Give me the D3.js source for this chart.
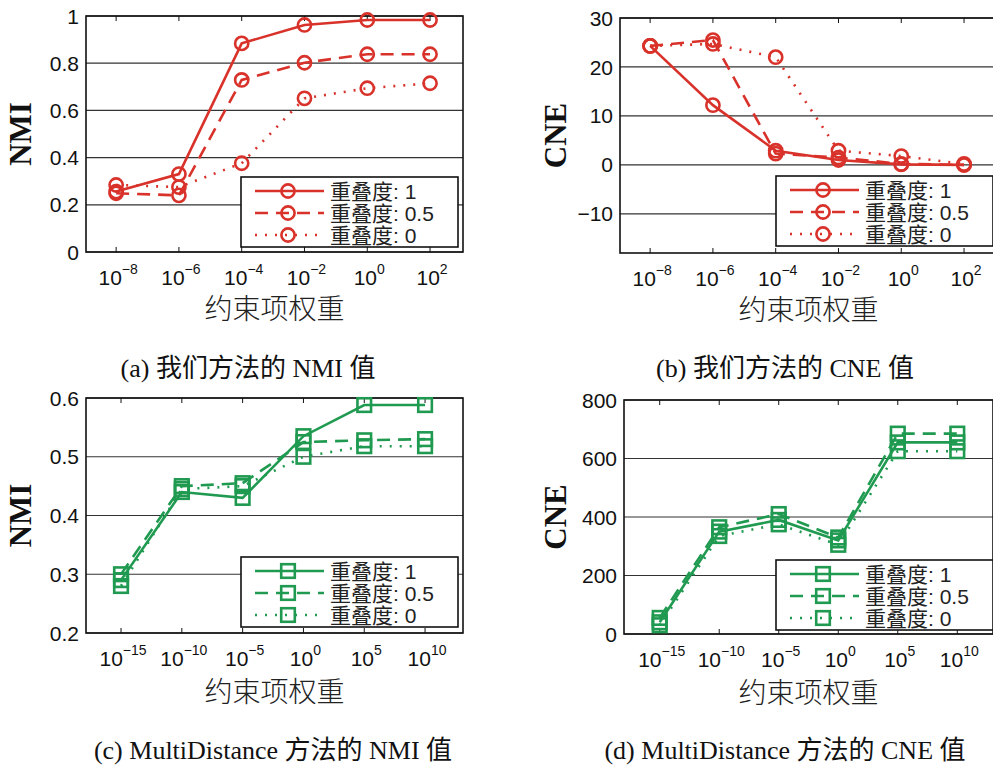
<!DOCTYPE html>
<html>
<head>
<meta charset="utf-8">
<script src="https://cdn.jsdelivr.net/npm/d3@7"></script>
<style>
  body { margin: 0; background: #fff; }
  svg { display: block; }
  .tick-label { font-family: "Liberation Sans", Arial, sans-serif; font-size: 21px; fill: #111; }
  .axis-title { font-family: "Liberation Serif", "Times New Roman", serif; font-weight: bold; font-size: 31px; fill: #111; }
  .x-title { font-family: "Noto Sans CJK SC", sans-serif; font-size: 28px; fill: #222; font-weight: 300; }
  .legend-text { font-family: "Liberation Sans", "Noto Sans CJK SC", sans-serif; font-size: 21px; fill: #222; }
  .caption { font-family: "Liberation Serif", "Noto Sans CJK SC", serif; font-size: 26px; fill: #111; }
</style>
</head>
<body>
<svg id="chart" width="993" height="767"></svg>
<script>
// x positions are the exponents of 10
const expOurs = [ -8, -6, -4, -2, 0, 2 ];
const expMD = [ -15, -10, -5, 0, 5, 10 ];

const legendLabels = [ "重叠度: 1", "重叠度: 0.5", "重叠度: 0" ];

// (a) our method, NMI
const nmiOurs1 = [ 0.256, 0.33, 0.884, 0.962, 0.983, 0.983 ];
const nmiOurs05 = [ 0.249, 0.24, 0.729, 0.802, 0.838, 0.838 ];
const nmiOurs0 = [ 0.284, 0.275, 0.376, 0.651, 0.694, 0.715 ];

// (b) our method, CNE
const cneOurs1 = [ 24.3, 12.2, 2.9, 1.0, 0.1, 0.0 ];
const cneOurs05 = [ 24.3, 25.5, 2.3, 1.5, 0.2, 0.0 ];
const cneOurs0 = [ 24.3, 24.7, 22.0, 2.9, 1.8, 0.2 ];

// (c) MultiDistance, NMI
const nmiMD1 = [ 0.29, 0.44, 0.43, 0.535, 0.588, 0.588 ];
const nmiMD05 = [ 0.30, 0.45, 0.455, 0.525, 0.528, 0.53 ];
const nmiMD0 = [ 0.28, 0.445, 0.45, 0.50, 0.518, 0.518 ];

// (d) MultiDistance, CNE
const cneMD1 = [ 40, 350, 390, 320, 655, 655 ];
const cneMD05 = [ 55, 365, 410, 330, 685, 685 ];
const cneMD0 = [ 30, 335, 375, 305, 625, 625 ];

const nmiTicksOurs = [ 0, 0.2, 0.4, 0.6, 0.8, 1 ];
const cneTicksOurs = [ -10, 0, 10, 20, 30 ];
const nmiTicksMD = [ 0.2, 0.3, 0.4, 0.5, 0.6 ];
const cneTicksMD = [ 0, 200, 400, 600, 800 ];

const captions = [
    "(a) 我们方法的 NMI 值",
    "(b) 我们方法的 CNE 值",
    "(c) MultiDistance 方法的 NMI 值",
    "(d) MultiDistance 方法的 CNE 值"
];

const RED = "#d8322a";
const GREEN = "#1f9a50";
const dashes = [ null, "13,8", "2,8" ];

const svg = d3.select( "#chart" );

function drawPanel( p ) {
    const x = d3.scaleLinear().domain( p.xDomain ).range( [ p.left, p.right ] );
    const y = d3.scaleLinear().domain( p.yDomain ).range( [ p.bottom, p.top ] );
    const g = svg.append( "g" );

    // horizontal grid
    g.selectAll( "line.grid" )
        .data( p.yTicks )
        .enter()
        .append( "line" )
        .attr( "x1", p.left ).attr( "x2", p.right )
        .attr( "y1", d => y( d ) ).attr( "y2", d => y( d ) )
        .attr( "stroke", "#333" )
        .attr( "stroke-width", 1.2 );

    // x ticks top and bottom, inward
    p.xTicks.forEach( t => {
        g.append( "line" ).attr( "x1", x( t ) ).attr( "x2", x( t ) )
            .attr( "y1", p.bottom ).attr( "y2", p.bottom - 5 ).attr( "stroke", "#111" );
        g.append( "line" ).attr( "x1", x( t ) ).attr( "x2", x( t ) )
            .attr( "y1", p.top ).attr( "y2", p.top + 5 ).attr( "stroke", "#111" );
    } );

    g.append( "rect" )
        .attr( "x", p.left ).attr( "y", p.top )
        .attr( "width", p.right - p.left ).attr( "height", p.bottom - p.top )
        .attr( "fill", "none" )
        .attr( "stroke", "#111" )
        .attr( "stroke-width", 1.6 );

    // y tick labels
    g.selectAll( "text.ytick" )
        .data( p.yTicks )
        .enter()
        .append( "text" )
        .attr( "class", "tick-label" )
        .attr( "x", p.left - 7 )
        .attr( "y", d => y( d ) )
        .attr( "dy", "0.36em" )
        .style( "text-anchor", "end" )
        .text( d => d < 0 ? "\u2212" + Math.abs( d ) : String( d ) );

    // x tick labels: 10 with superscript exponent
    const xl = g.selectAll( "text.xtick" )
        .data( p.xTicks )
        .enter()
        .append( "text" )
        .attr( "class", "tick-label" )
        .attr( "x", d => x( d ) + 2 )
        .attr( "y", p.bottom + 33 )
        .style( "text-anchor", "middle" );
    xl.append( "tspan" ).text( "10" );
    xl.append( "tspan" )
        .attr( "dy", -11 )
        .style( "font-size", "14px" )
        .text( d => d < 0 ? "\u2212" + Math.abs( d ) : String( d ) );

    // axis titles
    g.append( "text" )
        .attr( "class", "axis-title" )
        .attr( "transform", `translate(${p.yTitleX},${( p.top + p.bottom ) / 2}) rotate(-90)` )
        .attr( "dy", "0.35em" )
        .style( "text-anchor", "middle" )
        .text( p.yTitle );

    g.append( "text" )
        .attr( "class", "x-title" )
        .attr( "x", ( p.left + p.right ) / 2 )
        .attr( "y", p.bottom + p.xTitleGap )
        .attr( "dy", "0.35em" )
        .style( "text-anchor", "middle" )
        .text( "约束项权重" );

    // series
    const line = d3.line()
        .x( d => x( d[ 0 ] ) )
        .y( d => y( d[ 1 ] ) );

    p.series.forEach( ( vals, i ) => {
        const pts = p.xTicks.map( ( t, k ) => [ t, vals[ k ] ] );
        g.append( "path" )
            .attr( "d", line( pts ) )
            .attr( "fill", "none" )
            .attr( "stroke", p.color )
            .attr( "stroke-width", 2.6 )
            .attr( "stroke-dasharray", dashes[ i ] );
        drawMarkers( g, pts.map( d => [ x( d[ 0 ] ), y( d[ 1 ] ) ] ), p );
    } );

    // legend
    const lg = g.append( "g" ).attr( "transform", `translate(${p.legX},${p.legY})` );
    lg.append( "rect" )
        .attr( "width", 217 ).attr( "height", 70 )
        .attr( "fill", "#fff" )
        .attr( "stroke", "#111" )
        .attr( "stroke-width", 1.6 );
    legendLabels.forEach( ( lab, i ) => {
        const ry = 14 + i * 22;
        lg.append( "line" )
            .attr( "x1", 14 ).attr( "x2", 83 )
            .attr( "y1", ry ).attr( "y2", ry )
            .attr( "stroke", p.color )
            .attr( "stroke-width", 2.6 )
            .attr( "stroke-dasharray", dashes[ i ] );
        drawMarkers( lg, [ [ 47, ry ] ], p );
        lg.append( "text" )
            .attr( "class", "legend-text" )
            .attr( "x", 89 ).attr( "y", ry )
            .attr( "dy", "0.36em" )
            .text( lab );
    } );
}

function drawMarkers( g, pts, p ) {
    if ( p.marker === "circle" ) {
        g.selectAll( null ).data( pts ).enter()
            .append( "circle" )
            .attr( "cx", d => d[ 0 ] ).attr( "cy", d => d[ 1 ] )
            .attr( "r", 6.6 )
            .attr( "fill", "none" )
            .attr( "stroke", p.color )
            .attr( "stroke-width", 2.6 );
    } else {
        g.selectAll( null ).data( pts ).enter()
            .append( "rect" )
            .attr( "x", d => d[ 0 ] - 6.8 ).attr( "y", d => d[ 1 ] - 6.8 )
            .attr( "width", 13.6 ).attr( "height", 13.6 )
            .attr( "fill", "none" )
            .attr( "stroke", p.color )
            .attr( "stroke-width", 2.6 );
    }
}

drawPanel( {
    left: 86, right: 463, top: 16, bottom: 252,
    xDomain: [ -8.96, 3.05 ], yDomain: [ 0, 1 ],
    xTicks: expOurs, yTicks: nmiTicksOurs,
    series: [ nmiOurs1, nmiOurs05, nmiOurs0 ],
    color: RED, marker: "circle",
    yTitle: "NMI", yTitleX: 20, xTitleGap: 57,
    legX: 241, legY: 177
} );

drawPanel( {
    left: 620, right: 997, top: 18, bottom: 253,
    xDomain: [ -8.96, 3.05 ], yDomain: [ -18, 30 ],
    xTicks: expOurs, yTicks: cneTicksOurs,
    series: [ cneOurs1, cneOurs05, cneOurs0 ],
    color: RED, marker: "circle",
    yTitle: "CNE", yTitleX: 555, xTitleGap: 57,
    legX: 776, legY: 176
} );

drawPanel( {
    left: 86, right: 463, top: 398, bottom: 633,
    xDomain: [ -17.88, 13.12 ], yDomain: [ 0.2, 0.6 ],
    xTicks: expMD, yTicks: nmiTicksMD,
    series: [ nmiMD1, nmiMD05, nmiMD0 ],
    color: GREEN, marker: "square",
    yTitle: "NMI", yTitleX: 20, xTitleGap: 59,
    legX: 241, legY: 557
} );

drawPanel( {
    left: 624, right: 993, top: 400, bottom: 634,
    xDomain: [ -18, 13 ], yDomain: [ 0, 800 ],
    xTicks: expMD, yTicks: cneTicksMD,
    series: [ cneMD1, cneMD05, cneMD0 ],
    color: GREEN, marker: "square",
    yTitle: "CNE", yTitleX: 555, xTitleGap: 59,
    legX: 776, legY: 560
} );

// subfigure captions
const capPos = [ [ 248, 368 ], [ 785, 368 ], [ 273, 750 ], [ 785, 750 ] ];
svg.selectAll( "text.caption" )
    .data( captions )
    .enter()
    .append( "text" )
    .attr( "class", "caption" )
    .attr( "x", ( d, i ) => capPos[ i ][ 0 ] )
    .attr( "y", ( d, i ) => capPos[ i ][ 1 ] )
    .attr( "dy", "0.35em" )
    .style( "text-anchor", "middle" )
    .text( d => d );
</script>
</body>
</html>
